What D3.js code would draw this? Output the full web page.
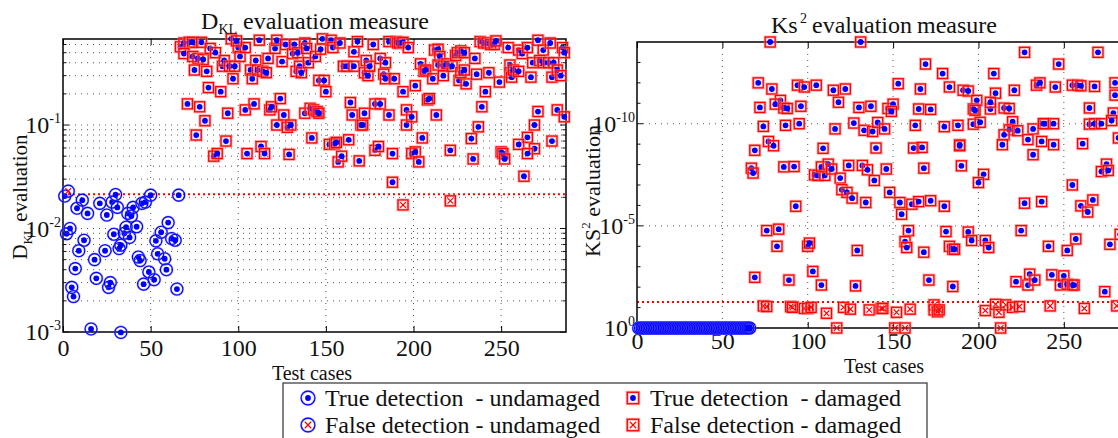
<!DOCTYPE html>
<html><head><meta charset="utf-8">
<script src="https://cdn.jsdelivr.net/npm/d3@7"></script>
<style>
body{margin:0;background:#fff}
text{font-family:"Liberation Serif","Times New Roman",serif;fill:#111}
</style>
</head><body>
<svg id="c" width="1118" height="438"></svg>
<script>
// ---------------- data ----------------
const caseMax = 287;
const xTickValues = [0, 50, 100, 150, 200, 250];
const dklTicks = [{v:1e-3, e:"-3"}, {v:1e-2, e:"-2"}, {v:1e-1, e:"-1"}];
const ksTicks = [{v:1, e:"0"}, {v:1e-5, e:"-5"}, {v:1e-10, e:"-10"}];
const dklThreshold = 0.0214;
const ksThreshold = 0.054;

// D_KL, undamaged cases [case, value]
const dklUndamagedTrue = [[1,0.0206],[2,0.0089],[4,0.010],[5,0.0027],[6,0.0022],[7,0.0041],[8,0.0157],[9,0.0061],[11,0.0188],[12,0.0077],[14,0.0140],[16,0.00107],[18,0.0050],[19,0.0033],[21,0.0175],[24,0.0061],[25,0.0135],[26,0.0027],[27,0.0030],[28,0.018],[29,0.0088],[30,0.0213],[31,0.016],[32,0.0064],[33,0.0069],[33,0.00099],[35,0.0090],[36,0.0103],[37,0.014],[38,0.0082],[39,0.0132],[40,0.016],[42,0.0104],[43,0.0053],[44,0.0049],[45,0.0175],[46,0.0029],[47,0.018],[49,0.0038],[50,0.021],[52,0.0032],[53,0.0076],[54,0.0057],[56,0.0092],[58,0.0051],[59,0.0040],[60,0.0114],[62,0.0080],[64,0.0077],[65,0.0026],[66,0.021]];
const dklUndamagedFalse = [[3,0.023]];
// D_KL, damaged cases [case, value]
const dklDamagedTrue = [[67,0.57],[69,0.62],[72,0.63],[74,0.63],[69,0.49],[74,0.46],[77,0.44],[80,0.43],[79,0.63],[75,0.34],[71,0.16],[78,0.15],[76,0.08],[81,0.11],[82,0.33],[83,0.23],[84,0.55],[87,0.50],[90,0.21],[91,0.37],[92,0.42],[95,0.37],[86,0.05],[88,0.053],[93,0.07],[94,0.13],[96,0.68],[98,0.37],[97,0.28],[100,0.56],[101,0.46],[104,0.56],[99,0.65],[104,0.14],[105,0.053],[107,0.34],[108,0.28],[110,0.42],[111,0.34],[114,0.33],[116,0.32],[109,0.16],[113,0.062],[115,0.053],[112,0.66],[117,0.44],[118,0.14],[119,0.15],[121,0.55],[122,0.1],[122,0.66],[124,0.18],[125,0.41],[126,0.125],[127,0.6],[128,0.095],[130,0.1],[129,0.052],[131,0.49],[132,0.6],[134,0.5],[133,0.33],[135,0.37],[136,0.32],[138,0.62],[139,0.55],[138,0.13],[140,0.4],[141,0.145],[143,0.14],[145,0.135],[146,0.13],[142,0.075],[144,0.46],[147,0.54],[148,0.68],[153,0.66],[154,0.56],[146,0.27],[149,0.27],[150,0.21],[152,0.065],[155,0.066],[156,0.068],[157,0.044],[159,0.05],[158,0.62],[160,0.37],[162,0.37],[166,0.37],[164,0.165],[165,0.125],[163,0.072],[166,0.51],[169,0.045],[168,0.64],[170,0.1],[171,0.1],[172,0.13],[172,0.32],[174,0.3],[173,0.42],[175,0.37],[177,0.6],[178,0.16],[181,0.16],[178,0.057],[180,0.062],[181,0.44],[184,0.4],[183,0.31],[184,0.28],[189,0.28],[186,0.125],[186,0.64],[188,0.028],[188,0.053],[190,0.64],[191,0.62],[192,0.62],[194,0.63],[197,0.56],[194,0.21],[196,0.1],[196,0.14],[199,0.12],[199,0.053],[201,0.055],[203,0.044],[201,0.24],[204,0.39],[206,0.33],[207,0.34],[208,0.175],[209,0.18],[211,0.28],[212,0.53],[214,0.54],[215,0.46],[213,0.125],[205,0.075],[214,0.38],[217,0.37],[219,0.39],[217,0.3],[221,0.057],[222,0.37],[224,0.47],[225,0.5],[227,0.52],[229,0.5],[226,0.27],[230,0.25],[227,0.32],[229,0.34],[233,0.074],[234,0.047],[235,0.44],[236,0.31],[237,0.096],[239,0.15],[238,0.64],[240,0.62],[242,0.62],[244,0.6],[246,0.6],[247,0.65],[241,0.21],[243,0.32],[249,0.26],[254,0.56],[260,0.53],[262,0.49],[265,0.56],[271,0.66],[274,0.53],[278,0.62],[285,0.56],[286,0.50],[255,0.38],[255,0.32],[256,0.29],[257,0.34],[260,0.33],[267,0.29],[268,0.40],[272,0.42],[274,0.40],[277,0.40],[280,0.40],[279,0.29],[282,0.34],[284,0.30],[271,0.135],[282,0.14],[286,0.12],[269,0.10],[265,0.076],[260,0.065],[279,0.07],[269,0.059],[265,0.053],[250,0.055],[251,0.053],[252,0.047],[263,0.032]];
const dklDamagedFalse = [[194,0.0169],[221,0.0185]];

// KS^2, undamaged cases 1..66 (value per case)
const ksUndamagedTrue = [1,1,1,1,1,1,1,1,1,1,1,1,1,1,1,1,1,1,1,1,1,1,1,1,1,1,1,1,1,1,1,1,1,1,1,1,1,1,1,1,1,1,1,1,1,1,1,1,1,1,1,1,1,1,1,1,1,1,1,1,1,1,1,1,1,1];
// KS^2, damaged cases [case, value]
const ksDamagedTrue = [[78,1e-14],[131,1e-14],[227,3.2e-14],[270,3.2e-14],[169,1.2e-13],[247,1.2e-13],[179,3.5e-13],[209,3.5e-13],[71,1e-12],[94,1.3e-12],[98,1.6e-12],[105,1.3e-12],[280,1e-12],[234,1.3e-12],[236,1e-12],[183,1.6e-12],[166,2e-12],[153,1.1e-12],[122,2e-12],[115,2.3e-12],[255,1.3e-12],[258,1.3e-12],[260,1.4e-12],[268,1.5e-12],[245,1.6e-12],[191,2.3e-12],[194,2.5e-12],[221,2.3e-12],[210,3.2e-12],[79,2e-12],[280,4e-12],[84,7.2e-12],[81,1.1e-11],[86,1.7e-11],[88,1.8e-11],[72,1.6e-11],[96,1.4e-11],[118,8.9e-12],[130,1.6e-11],[137,1.4e-11],[147,1.8e-11],[150,1.1e-11],[149,2.5e-11],[165,1.9e-11],[172,2e-11],[199,7.2e-12],[197,1.9e-11],[198,2.2e-11],[207,1.9e-11],[207,8.9e-12],[215,1.7e-11],[218,1.8e-11],[265,1.7e-11],[279,3e-11],[282,5e-10],[74,1.35e-10],[87,1.2e-10],[95,1e-10],[116,1.8e-10],[127,9.3e-11],[133,2.1e-10],[138,2.4e-10],[141,8.7e-11],[145,1.8e-10],[163,1.2e-10],[180,1.4e-10],[188,1.2e-10],[197,1.05e-10],[201,8.5e-11],[220,8e-11],[218,2e-10],[223,2.2e-10],[215,3.5e-10],[214,1.07e-9],[232,1.8e-10],[239,1e-10],[244,1e-10],[238,1e-10],[265,1.05e-10],[268,1e-10],[272,1e-10],[278,7e-11],[229,6e-10],[237,7.4e-10],[244,1.07e-9],[261,9.5e-10],[232,3.3e-9],[189,1.07e-9],[189,1.2e-9],[162,1.55e-9],[167,1.45e-9],[140,1.55e-9],[109,1.6e-9],[69,2e-9],[77,7.4e-10],[80,1.2e-9],[67,1.5e-8],[68,2.6e-8],[86,1.3e-8],[92,1.25e-8],[104,3.2e-8],[106,3.4e-8],[110,3.4e-8],[108,1.3e-8],[112,9.5e-9],[114,1.65e-8],[119,4.6e-8],[124,1.1e-8],[132,1.1e-8],[135,1.8e-8],[139,6e-8],[146,1.65e-8],[168,1.5e-8],[190,1.15e-8],[203,3e-8],[200,7.6e-8],[255,1e-7],[275,9.5e-9],[272,2.2e-8],[276,1.95e-8],[120,1.7e-7],[123,2.3e-7],[126,4.4e-7],[148,2.3e-7],[134,7.2e-7],[93,1.1e-6],[154,7.2e-7],[155,2.7e-6],[161,8.7e-7],[165,6.5e-7],[172,5.9e-7],[180,1.1e-6],[227,7.8e-7],[237,6.5e-7],[260,1.05e-6],[264,2.1e-6],[267,5.4e-7],[76,1.7e-5],[83,1.45e-5],[82,1e-4],[100,1e-4],[101,7e-5],[129,1.6e-4],[159,1.7e-5],[157,5.9e-5],[158,1.15e-4],[168,1.95e-4],[181,1.9e-5],[183,1e-4],[185,1.4e-4],[186,1.4e-4],[194,2e-5],[196,5.2e-5],[204,5.2e-5],[206,1.15e-4],[225,1.7e-5],[241,1e-4],[252,1.6e-4],[257,4.4e-5],[277,8e-5],[283,2.6e-5],[69,3.3e-3],[89,4.5e-3],[103,1.7e-3],[108,7.9e-3],[128,8.7e-3],[171,4.5e-3],[185,9.3e-3],[222,5.4e-3],[229,7.9e-3],[230,2.3e-3],[233,4.5e-3],[243,2.5e-3],[248,7.9e-3],[250,2.8e-3],[252,7.2e-3],[255,7.9e-3],[256,7.9e-3],[274,0.0166]];
const ksDamagedFalse = [[74,0.083],[76,0.089],[90,0.089],[91,0.098],[98,0.11],[100,0.11],[102,0.098],[111,0.19],[117,1],[121,0.098],[125,0.12],[136,0.13],[143,0.11],[144,0.11],[152,0.17],[151,1],[157,1],[160,0.12],[174,0.074],[174,0.13],[176,0.16],[177,0.13],[204,0.14],[210,0.069],[212,0.17],[213,1],[216,0.074],[220,0.098],[224,0.089],[242,0.083],[262,0.11],[281,0.083]];

const legendItems = [
  {label:"True detection\u00a0\u00a0- undamaged", kind:"circleTrue"},
  {label:"True detection\u00a0\u00a0- damaged", kind:"squareTrue"},
  {label:"False detection - undamaged", kind:"circleFalse"},
  {label:"False detection - damaged", kind:"squareFalse"}
];

// ---------------- drawing ----------------
const BLUE = "#0000ff", RED = "#ff0000";
const TICK_FONT = 24;
const svg = d3.select("#c");

function drawMarker(g, kind, x, y, s) {
  s = s || 1;
  if (kind.startsWith("circle")) {
    g.append("circle").attr("cx",x).attr("cy",y).attr("r",6*s)
      .attr("fill","none").attr("stroke","#6a6aff").attr("stroke-width",2.2).attr("opacity",0.55);
    g.append("circle").attr("cx",x).attr("cy",y).attr("r",6*s)
      .attr("fill","none").attr("stroke",BLUE).attr("stroke-width",1.1);
  } else {
    const h = 5*s;
    g.append("rect").attr("x",x-h).attr("y",y-h).attr("width",2*h).attr("height",2*h)
      .attr("fill","none").attr("stroke","#ff8080").attr("stroke-width",3).attr("opacity",0.6);
    g.append("rect").attr("x",x-h).attr("y",y-h).attr("width",2*h).attr("height",2*h)
      .attr("fill","none").attr("stroke",RED).attr("stroke-width",1.3);
  }
  if (kind.endsWith("True")) {
    g.append("circle").attr("cx",x).attr("cy",y).attr("r",2.9).attr("fill",BLUE);
  } else {
    const d = 2.8*s;
    g.append("path").attr("d",`M${x-d},${y-d}L${x+d},${y+d}M${x-d},${y+d}L${x+d},${y-d}`)
      .attr("stroke",RED).attr("stroke-width",1.2).attr("fill","none");
  }
}

function supText(g, x, y, base, exp, size) {
  const t = g.append("text").attr("x",x).attr("y",y).attr("text-anchor","end")
    .attr("font-size",size);
  t.append("tspan").text(base);
  t.append("tspan").attr("dy",-10).attr("font-size",14).text(exp);
}

function panel(opts) {
  const {x, y, yTicksMajor, minorVals, hGrid, threshold, layers, xPad} = opts;
  const [x0, x1] = x.range();
  const [yb, yt] = y.range();
  const g = svg.append("g");
  // grid
  const grid = g.append("g").attr("stroke","#444").attr("stroke-width",0.9)
    .attr("stroke-dasharray","1,5");
  xTickValues.filter(v => v > 0).forEach(v => {
    grid.append("line").attr("x1",x(v)).attr("x2",x(v)).attr("y1",yt).attr("y2",yb);
  });
  hGrid.forEach(v => {
    grid.append("line").attr("x1",x0).attr("x2",x1).attr("y1",y(v)).attr("y2",y(v));
  });
  // threshold
  g.append("line").attr("x1",x0).attr("x2",x1).attr("y1",y(threshold)).attr("y2",y(threshold))
    .attr("stroke",RED).attr("stroke-width",2).attr("stroke-dasharray","2,3");
  // frame
  g.append("rect").attr("x",x0).attr("y",yt).attr("width",x1-x0).attr("height",yb-yt)
    .attr("fill","none").attr("stroke","#111").attr("stroke-width",1.6);
  // y ticks (inside, both sides)
  const tk = g.append("g").attr("stroke","#111").attr("stroke-width",1);
  minorVals.forEach(v => {
    tk.append("line").attr("x1",x0).attr("x2",x0+3.5).attr("y1",y(v)).attr("y2",y(v));
    tk.append("line").attr("x1",x1).attr("x2",x1-3.5).attr("y1",y(v)).attr("y2",y(v));
  });
  yTicksMajor.forEach(t => {
    tk.append("line").attr("x1",x0).attr("x2",x0+6).attr("y1",y(t.v)).attr("y2",y(t.v));
    tk.append("line").attr("x1",x1).attr("x2",x1-6).attr("y1",y(t.v)).attr("y2",y(t.v));
    supText(g, x0 - 2, y(t.v) + 8, "10", t.e, TICK_FONT);
  });
  // x axes
  const xb = g.append("g").attr("transform",`translate(0,${yb})`)
    .call(d3.axisBottom(x).tickValues(xTickValues).tickSizeInner(-6).tickSizeOuter(0).tickPadding(xPad));
  xb.select(".domain").remove();
  xb.selectAll("text").attr("font-family","Liberation Serif, serif").attr("font-size",TICK_FONT).attr("fill","#111");
  const xt = g.append("g").attr("transform",`translate(0,${yt})`)
    .call(d3.axisTop(x).tickValues(xTickValues).tickSizeInner(-6).tickSizeOuter(0).tickFormat(""));
  xt.select(".domain").remove();
  // markers
  const mk = g.append("g");
  layers.forEach(L => L.data.forEach(d => drawMarker(mk, L.kind, x(d[0]), y(d[1]))));
  return g;
}

// left panel
const xL = d3.scaleLinear().domain([0, caseMax]).range([63, 566]);
const yL = d3.scaleLog().domain([1e-3, 0.678]).range([332, 39]);
const minorL = [];
[-3,-2,-1].forEach(k => { for (let m = 2; m <= 9; m++) { const v = m*Math.pow(10,k); if (v < 0.678) minorL.push(v); } });
panel({x:xL, y:yL, yTicksMajor:dklTicks, minorVals:minorL,
  hGrid: minorL.concat([1e-2, 1e-1]), threshold:dklThreshold, xPad:7,
  layers:[
    {kind:"circleTrue", data:dklUndamagedTrue},
    {kind:"circleFalse", data:dklUndamagedFalse},
    {kind:"squareTrue", data:dklDamagedTrue},
    {kind:"squareFalse", data:dklDamagedFalse}
  ]});

// right panel
const xR = d3.scaleLinear().domain([0, caseMax]).range([637, 1127]);
const yR = d3.scaleLog().domain([1, 1e-14]).range([328, 42]);
const minorR = [];
for (let e = 1; e <= 13; e++) if (e !== 5 && e !== 10) minorR.push(Math.pow(10,-e));
panel({x:xR, y:yR, yTicksMajor:ksTicks, minorVals:minorR,
  hGrid:[1e-5, 1e-10], threshold:ksThreshold, xPad:4,
  layers:[
    {kind:"circleTrue", data:ksUndamagedTrue.map((v,i) => [i+1, v])},
    {kind:"squareTrue", data:ksDamagedTrue},
    {kind:"squareFalse", data:ksDamagedFalse}
  ]});

// titles
const t1 = svg.append("text").attr("x",315).attr("y",29).attr("text-anchor","middle").attr("font-size",24);
t1.append("tspan").text("D");
t1.append("tspan").attr("dy",5).attr("font-size",14).text("KL");
t1.append("tspan").attr("dy",-5).text(" evaluation measure");
const t2 = svg.append("text").attr("y",33).attr("font-size",24);
t2.append("tspan").attr("x",771).text("Ks");
t2.append("tspan").attr("x",800).attr("dy",-10).attr("font-size",14).text("2");
t2.append("tspan").attr("x",812).attr("dy",10).text("evaluation");
t2.append("tspan").attr("x",917).text("measure");

// axis labels
svg.append("text").attr("x",312).attr("y",380).attr("text-anchor","middle").attr("font-size",20).text("Test cases");
svg.append("text").attr("x",884).attr("y",373).attr("text-anchor","middle").attr("font-size",20).text("Test cases");
const yl1 = svg.append("text").attr("transform","translate(27,197) rotate(-90)").attr("text-anchor","middle").attr("font-size",21);
yl1.append("tspan").text("D");
yl1.append("tspan").attr("dy",5).attr("font-size",13).text("KL");
yl1.append("tspan").attr("dy",-5).text(" evaluation");
const yl2 = svg.append("text").attr("transform","translate(600,191) rotate(-90)").attr("text-anchor","middle").attr("font-size",22);
yl2.append("tspan").text("KS");
yl2.append("tspan").attr("dy",-10).attr("font-size",13).text("2");
yl2.append("tspan").attr("dy",10).text(" evaluation");

// legend
const lg = svg.append("g");
lg.append("rect").attr("x",283).attr("y",383).attr("width",644).attr("height",62)
  .attr("fill","#fff").attr("stroke","#333").attr("stroke-width",1.2);
const colX = [308, 633], rowY = [398, 425];
legendItems.forEach((it, i) => {
  const cx = colX[i % 2], cy = rowY[Math.floor(i / 2)];
  drawMarker(lg, it.kind, cx, cy, 1.15);
  lg.append("text").attr("x",cx + 17).attr("y",cy + 8).attr("font-size",24).text(it.label);
});
</script>
</body></html>
